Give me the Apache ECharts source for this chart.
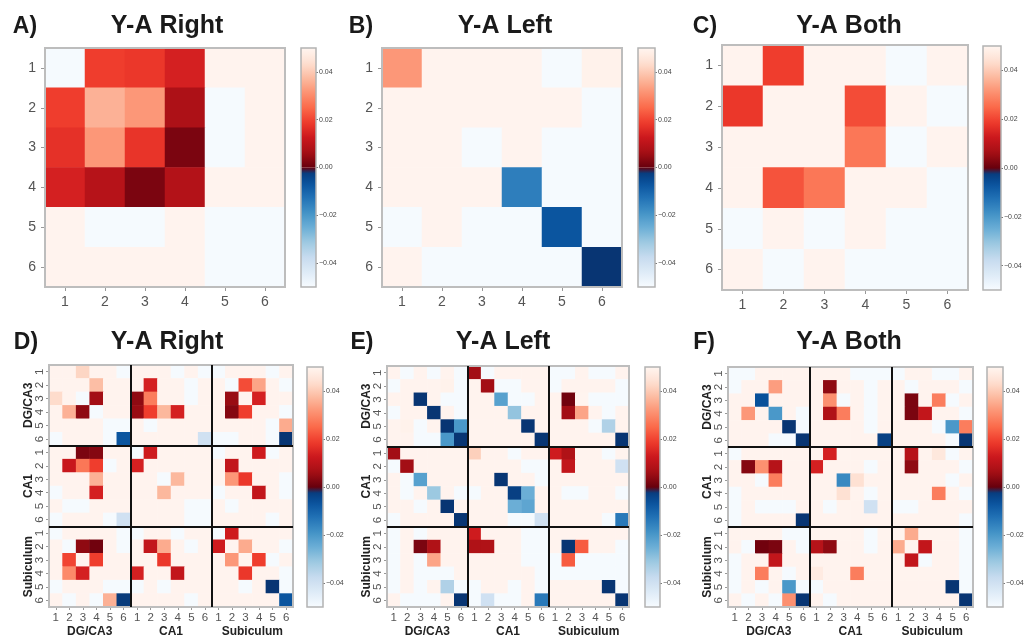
<!DOCTYPE html>
<html><head><meta charset="utf-8">
<script src="https://cdn.jsdelivr.net/npm/echarts@6/dist/echarts.min.js"></script>
<style>html,body{margin:0;padding:0;background:#fff}#c{width:1035px;height:643px}</style>
</head><body><div id="c"></div>
<script>
const TICKS = ['1','2','3','4','5','6'];
const REGIONS = ['DG/CA3','CA1','Subiculum'];
const TITLES = ['Y-A Right','Y-A Left','Y-A Both','Y-A Right','Y-A Left','Y-A Both'];
const LETTERS = ['A)','B)','C)','D)','E)','F)'];
const CBAR_TICKS = [-0.04,-0.02,0,0.02,0.04];

const A_RIGHT = [
 [-.0495,.019,.018,.014,.0495,.0495],
 [.019,.036,.032,.0075,-.0495,.0495],
 [.017,.032,.0175,.002,-.0495,.0495],
 [.014,.009,.002,.0085,.0495,.0495],
 [.0495,-.0495,-.0495,.0495,-.0495,-.0495],
 [.0495,.0495,.0495,.0495,-.0495,-.0495]
];
const B_LEFT = [
 [.032,.0495,.0495,.0495,-.0495,.049],
 [.0495,.0495,.0495,.0495,.0495,-.0495],
 [.0495,.0495,-.0495,.0495,-.0495,-.0495],
 [.0495,.0495,.0495,-.015,-.0495,-.0495],
 [-.0495,.0495,-.0495,-.0495,-.007,-.0495],
 [.0495,-.0495,-.0495,-.0495,-.0495,-.001]
];
const C_BOTH = [
 [.0495,.019,.0495,.0495,-.0495,.0495],
 [.018,.0495,.0495,.021,.0495,-.0495],
 [.0495,.0495,.0495,.027,-.0495,.0495],
 [.0495,.022,.027,.0495,.0495,-.0495],
 [-.0495,.0495,-.0495,.0495,-.0495,-.0495],
 [.0495,-.0495,.0495,-.0495,-.0495,-.0495]
];
const D_RIGHT = [
 [.0495,.0495,.042,.0495,.0495,-.0495, .0495,.0495,.0495,-.0495,.0495,-.0495, -.0495,.0495,.0495,.0495,-.0495,.0495],
 [.0495,.0495,.0495,.038,.0495,.0495, .0495,.014,.0495,.0495,-.0495,.0495, .0495,-.0495,.021,.034,.0495,-.0495],
 [.043,.0495,-.0495,.006,.0495,.0495, .004,.028,.0495,.0495,-.0495,.0495, .0495,.005,.0498,.014,.0495,.0495],
 [.0495,.036,.004,-.0495,.0495,.0495, .005,.019,.037,.014,.0495,.0495, .0495,.003,.019,.0495,.0495,-.0495],
 [.0495,.0495,.0495,.0495,-.0495,-.0495, .0495,-.0495,.0495,.0495,.0495,.0495, .0495,.0495,.0495,.0495,-.0495,.035],
 [-.0495,.0495,.0495,.0495,-.0495,-.007, .0495,.0495,.0495,.0495,.0495,-.040, -.0495,-.0495,.0495,.0495,-.0495,-.001],
 [.0495,.0495,.002,.003,.0495,.0495, -.0495,.013,.0495,.0495,.0495,.0495, -.0495,.0495,.0495,.013,-.0495,.0495],
 [.0495,.012,.027,.019,-.0495,.0495, .014,.0495,.0495,.0495,.0495,.0495, .0495,.011,.0495,.0495,.0495,.0495],
 [.0495,.0495,.0495,.036,.0495,.0495, .0495,.0495,-.0495,.037,.0495,.0495, .0495,.032,.018,.0495,.0495,-.0495],
 [-.0495,.0495,.0495,.014,.0495,.0495, .0495,.0495,.037,.0495,.0495,.0495, -.0495,.0495,.0495,.011,.0495,-.0495],
 [.0495,-.0495,-.0495,.0495,.0495,.0495, .0495,.0495,.0495,.0495,-.0495,-.0495, .0495,-.0495,.0495,.0495,.0495,.0495],
 [-.0495,.0495,.0495,.0495,-.0495,-.040, .0495,.0495,.0495,.0495,-.0495,-.0495, .0495,.0495,.0495,.0495,-.0495,.0495],
 [-.0495,.0495,.0495,.0495,.0495,-.0495, -.0495,.0495,.0495,-.0495,.0495,.0495, -.0495,.013,.0495,.0495,.0495,.0495],
 [.0495,-.0495,.004,.001,.0495,-.0495, .0495,.011,.035,.0495,-.0495,.0495, .013,.0498,.035,.0495,.0495,-.0495],
 [.0495,.020,.0498,.019,.0495,.0495, .0495,.0495,.018,.0495,.0495,.0495, .0495,.032,.0498,.019,-.0495,.0495],
 [.0495,.030,.014,.0495,.0495,.0495, .014,.0495,.0495,.011,.0495,.0495, .0495,.0495,.018,.0495,.0495,-.0495],
 [-.0495,.0495,.0495,.0495,-.0495,-.0495, -.0495,.0495,-.0495,.0495,.0495,.0495, .0495,.0495,-.0495,.0495,-.001,-.0495],
 [.0495,-.0495,.0495,-.0495,.036,-.002, .0495,.0495,.0495,.0495,-.0495,.0495, .0495,.0495,.0495,.0495,.0495,-.007]
];
const E_LEFT = [
 [.0495,-.0495,.0495,-.0495,.0495,-.0495, .006,-.0495,.0495,.0495,.0495,.0495, -.0495,-.0495,.0495,-.0495,-.0495,.0495],
 [-.0495,.0495,.0495,.0495,.049,-.0495, .0495,.006,-.0495,-.0495,.0495,.0495, -.0495,.0495,.0495,.0495,.0495,-.0495],
 [.0495,.0495,-.001,.0495,-.0495,-.0495, .0495,.0495,-.022,-.0495,-.0495,.0495, .0495,.001,.0498,-.0495,-.0495,-.0495],
 [-.0495,.0495,.0495,-.001,.0495,-.0495, .0495,.0495,.0495,-.030,.0495,.0495, .0495,.006,.034,.0495,-.0495,.0495],
 [.0495,.049,-.0495,.0495,-.001,-.020, .0495,.0495,.0495,.0495,-.001,.0495, .0495,.0495,.0495,-.0495,-.034,.0495],
 [.0495,.0495,-.0495,-.0495,-.020,-.001, .0495,.0495,.0495,.0495,.0495,-.001, .0495,.0495,.0495,.0495,.0495,-.001],
 [.006,.0495,.0495,.0495,.0495,.0495, .041,.0495,.0495,-.0495,.0495,.0495, .013,.008,.0495,.0495,-.0495,.0495],
 [-.0495,.006,.0495,.0495,.0495,.0495, .0495,.0495,.0495,.0495,-.0495,-.0495, .0495,.011,.0495,.0495,.0495,-.040],
 [.0495,-.0495,-.022,.0495,.0495,.0495, .0495,.0495,-.001,.0495,.0495,-.0495, .0495,.0495,.0495,.0495,.0495,.0495],
 [.0495,-.0495,.0495,-.031,.0495,-.0495, -.0495,.0495,.0495,-.003,-.025,.0495, .0495,-.0495,-.0495,.0495,.0495,-.0495],
 [.0495,.0495,-.0495,.0495,-.001,.0495, .0495,.0495,.0495,-.025,-.023,.0495, .0495,.0495,.0495,.0495,.0495,.0495],
 [-.0495,.0495,.0495,.0495,.0495,-.001, .0495,.0495,.0495,-.0495,-.0495,-.040, .0495,.0495,.0495,.0495,-.0495,-.014],
 [-.0495,.0495,-.0495,.0495,.0495,.0495, .013,.0495,.0495,.0495,-.0495,-.0495, .0495,.0495,.0495,.0495,.0495,.0495],
 [-.0495,.0495,.002,.008,.0495,.0495, .008,.008,.0495,.0495,-.0495,-.0495, .0495,-.001,.023,.0495,.0495,-.0495],
 [-.0495,.0495,-.0495,.034,.0495,.0495, .0495,.0495,.0495,.0495,-.0495,-.0495, -.0495,.023,-.0495,-.0495,-.0495,-.0495],
 [-.0495,.0495,-.0495,-.0495,-.0495,.0495, .0495,.0495,.0495,.0495,.0495,-.0495, -.0495,-.0495,-.0495,-.0495,-.0495,-.0495],
 [-.0495,.0495,-.0495,.0495,-.034,-.0495, -.0495,.0495,.0495,-.0495,.0495,-.0495, .0495,.0495,.0495,.0495,-.001,-.0495],
 [.0495,-.0495,-.0495,-.0495,.0495,-.001, -.0495,-.040,-.0495,-.0495,.0495,-.014, .0495,.0495,.0495,.0495,.0495,-.001]
];
const F_BOTH = [
 [-.0495,-.0495,.0495,.0495,.0495,.0495, .0495,.0495,.0495,-.0495,-.0495,-.0495, -.0495,.0495,.0495,-.0495,-.0495,.0495],
 [-.0495,.0495,.0495,.033,.0495,.0495, .0495,.004,.0495,.0495,-.0495,.0495, .0495,-.0495,.0495,.0495,.0495,-.0495],
 [.0495,.0495,-.006,.0495,.0495,.0495, .0495,.031,-.0495,.0495,-.0495,.0495, .0495,.002,.0495,.028,-.0495,.0495],
 [.0495,.032,.0495,-.020,.0495,-.0495, .0495,.008,.028,.0495,-.0495,.0495, .0495,.002,.011,.0495,.0495,-.0495],
 [.0495,.0495,.0495,.0495,-.001,-.0495, .0495,.0495,.0495,.0495,-.0495,.0495, .0495,.0495,.0495,-.0495,-.020,.028],
 [.0495,.0495,.0495,-.0495,-.0495,-.001, .0495,.0495,.0495,.0495,.0495,-.003, .0495,.0495,.0495,.0495,-.0495,-.001],
 [-.0495,.0495,.0495,.0495,.0495,.0495, .0495,.014,.0495,.0495,.0495,.0495, .0495,.009,.0495,.046,-.0495,.0495],
 [.0495,.003,.031,.009,.0495,.0495, .014,.0495,.0495,.0495,-.0495,.0495, .0495,.004,.0495,.0495,.0495,-.0495],
 [.0495,.0495,-.0495,.028,.0495,.0495, .0495,.0495,-.017,.044,.0495,.0495, .0495,.0495,.0495,.0495,-.0495,.0495],
 [-.0495,.0495,.0495,.0495,.0495,.0495, .0495,.0495,.044,.0495,-.0495,.0495, .0495,.0495,.0495,.028,.0495,-.0495],
 [-.0495,.0495,-.0495,-.0495,-.0495,.0495, .0495,-.0495,.0495,.0495,-.040,.0495, -.0495,-.0495,.0495,.0495,.0495,.0495],
 [-.0495,.0495,.0495,.0495,.0495,-.001, .0495,.0495,.0495,.0495,.0495,.0495, .0495,.0495,.0495,.0495,.0495,-.0495],
 [.0495,.0495,.0495,.0495,-.0495,-.0495, .0495,.0495,.0495,.0495,-.0495,.0495, .0495,.035,.0495,.0495,.0495,-.0495],
 [.0495,-.0495,.001,.002,.0495,-.0495, .009,.004,.0495,.0495,-.0495,.0495, .035,.0498,.011,.0495,.0495,-.0495],
 [-.0495,.0495,.0495,.011,.0495,.0495, .0495,.0495,.0495,.0495,.0495,.0495, .0495,.011,-.0495,.0495,.0495,-.0495],
 [-.0495,.0495,.028,.0495,-.0495,.0495, .047,.0495,.0495,.028,.0495,.0495, .0495,.0495,.0495,.0495,.0495,-.0495],
 [-.0495,.0495,-.0495,.0495,-.020,-.0495, -.0495,.0495,.0495,.0495,.0495,.0495, .0495,.0495,.0495,.0495,-.001,-.0495],
 [.0495,-.0495,.0495,-.0495,.031,-.001, .0495,-.0495,.0495,.0495,.0495,.0495, .0495,.0495,.0495,.0495,.0495,-.001]
];

const MATRICES = [A_RIGHT, B_LEFT, C_BOTH, D_RIGHT, E_LEFT, F_BOTH];

// layout (positions only)
const LAYOUT = [
 {g:[45,48,240,239], cb:[301,48,15,239], t:[167,26], l:[25,27], big:false},
 {g:[382,48,240,239], cb:[638,48,17,239], t:[505,26], l:[361,27], big:false},
 {g:[722,45,246,245], cb:[983,46,18,244], t:[849,26], l:[705,27], big:false},
 {g:[49,365,244,242], cb:[307,367,16,240], t:[167,342], l:[26,343], big:true},
 {g:[387,366,242,241], cb:[645,367,15,240], t:[503,342], l:[362,343], big:true},
 {g:[728,367,245,240], cb:[987,367,16,240], t:[849,342], l:[704,343], big:true}
];

const FONT = '"Liberation Sans", Arial, Helvetica, sans-serif';
const BLUES_LD = ['#f7fbff','#deebf7','#c6dbef','#9ecae1','#6baed6','#4292c6','#2171b5','#08519c','#08306b'];
const REDS_DL = ['#67000d','#a50f15','#cb181d','#ef3b2c','#fb6a4a','#fc9272','#fcbba1','#fee0d2','#fff5f0'];
function hex2rgb(h){return [parseInt(h.slice(1,3),16),parseInt(h.slice(3,5),16),parseInt(h.slice(5,7),16)];}
function lerpPal(pal,t){
  t=Math.max(0,Math.min(1,t));
  const f=t*(pal.length-1); const i=Math.min(Math.floor(f),pal.length-2); const u=f-i;
  const a=hex2rgb(pal[i]), b=hex2rgb(pal[i+1]);
  return 'rgb('+a.map((v,k)=>Math.round(v+(b[k]-v)*u)).join(',')+')';
}
function cmap(v){ return v<0 ? lerpPal(BLUES_LD,(v+0.05)/0.05) : lerpPal(REDS_DL, v/0.05); }
const N=400, COLORS=[];
for(let i=0;i<=N;i++){ COLORS.push(cmap(-0.05+0.1*i/N)); }

const grids=[], xAxes=[], yAxes=[], series=[], graphics=[];
LAYOUT.forEach(L=>grids.push({left:L.g[0],top:L.g[1],width:L.g[2],height:L.g[3],show:true,borderColor:'#bdbdbd',borderWidth:2,z:3}));
LAYOUT.forEach(L=>grids.push({left:L.cb[0],top:L.cb[1],width:L.cb[2],height:L.cb[3],show:true,borderColor:'#b3b3b3',borderWidth:1.5,z:3}));

LAYOUT.forEach((L,i)=>{
  const labels = L.big ? TICKS.concat(TICKS,TICKS) : TICKS;
  const fs = L.big ? 11.5 : 14;
  const xi = xAxes.length;
  xAxes.push({type:'category',gridIndex:i,data:labels,position:'bottom',axisLine:{show:false},
    axisTick:{show:true,alignWithLabel:true,length:L.big?3:4,lineStyle:{color:'#999'}},
    axisLabel:{interval:0,fontSize:fs,color:'#555',margin:L.big?5:8,fontFamily:FONT},splitLine:{show:false}});
  const yi = yAxes.length;
  yAxes.push({type:'category',gridIndex:i,data:labels,inverse:true,position:'left',axisLine:{show:false},
    axisTick:{show:true,alignWithLabel:true,length:L.big?3:4,lineStyle:{color:'#999'}},
    axisLabel:{interval:0,fontSize:fs,color:'#555',margin:L.big?3:9,rotate:L.big?90:0,fontFamily:FONT},splitLine:{show:false}});
  if(L.big){
    xAxes.push({type:'value',gridIndex:i,min:0,max:18,interval:6,position:'top',z:6,axisLine:{show:false},axisTick:{show:false},axisLabel:{show:false},
      splitLine:{show:true,showMinLine:false,showMaxLine:false,lineStyle:{color:'#111',width:2}}});
    yAxes.push({type:'value',gridIndex:i,min:0,max:18,interval:6,position:'right',z:6,axisLine:{show:false},axisTick:{show:false},axisLabel:{show:false},
      splitLine:{show:true,showMinLine:false,showMaxLine:false,lineStyle:{color:'#111',width:2}}});
    xAxes.push({type:'category',gridIndex:i,data:REGIONS,position:'bottom',offset:17,axisLine:{show:false},axisTick:{show:false},
      axisLabel:{fontSize:12,fontWeight:'bold',color:'#222',margin:2,fontFamily:FONT},splitLine:{show:false}});
    yAxes.push({type:'category',gridIndex:i,data:REGIONS,inverse:true,position:'left',offset:12,axisLine:{show:false},axisTick:{show:false},
      axisLabel:{fontSize:12,fontWeight:'bold',color:'#222',margin:2,rotate:90,fontFamily:FONT},splitLine:{show:false}});
  }
  const M = MATRICES[i], data=[];
  M.forEach((row,r)=>row.forEach((v,c)=>data.push([c,r,v])));
  series.push({type:'heatmap',xAxisIndex:xi,yAxisIndex:yi,data:data,emphasis:{disabled:true},progressive:0,animation:false});
  graphics.push({type:'text',x:L.t[0],y:L.t[1],style:{text:TITLES[i],font:'bold 25px '+FONT,fill:'#1a1a1a',textAlign:'center',textVerticalAlign:'middle',align:'center',verticalAlign:'middle'}});
  graphics.push({type:'text',x:L.l[0],y:L.l[1],style:{text:LETTERS[i],font:'bold 23px '+FONT,fill:'#1a1a1a',textAlign:'center',textVerticalAlign:'middle',align:'center',verticalAlign:'middle'}});
});

function grad(pos){
  const stops=[];
  for(let k=0;k<=20;k++){ const v = pos ? 0.05*(1-k/20) : -0.05*k/20; stops.push({offset:k/20,color:cmap(v)}); }
  return {type:'linear',x:0,y:0,x2:0,y2:1,colorStops:stops};
}
LAYOUT.forEach((L,i)=>{
  const xi=xAxes.length;
  xAxes.push({type:'category',gridIndex:6+i,data:['c'],show:false});
  const yi=yAxes.length;
  yAxes.push({type:'value',gridIndex:6+i,min:-0.05,max:0.05,position:'right',axisLine:{show:false},
    axisTick:{show:true,customValues:CBAR_TICKS,length:2,lineStyle:{color:'#777'}},
    axisLabel:{customValues:CBAR_TICKS,fontSize:7,color:'#444',margin:3,fontFamily:FONT,
      formatter:v=>(v<-1e-9?'\u2212':'')+Math.abs(v).toFixed(2)},splitLine:{show:false}});
  series.push({type:'bar',xAxisIndex:xi,yAxisIndex:yi,data:[0.05],barWidth:'100%',barGap:'-100%',itemStyle:{color:grad(true)},silent:true,animation:false});
  series.push({type:'bar',xAxisIndex:xi,yAxisIndex:yi,data:[-0.05],barWidth:'100%',barGap:'-100%',itemStyle:{color:grad(false)},silent:true,animation:false});
});

const chart = echarts.init(document.getElementById('c'),null,{renderer:'canvas'});
chart.setOption({
  backgroundColor:'#ffffff',
  animation:false,
  textStyle:{fontFamily:FONT},
  grid:grids, xAxis:xAxes, yAxis:yAxes,
  visualMap:{type:'continuous',show:false,min:-0.05,max:0.05,seriesIndex:[0,1,2,3,4,5],dimension:2,inRange:{color:COLORS}},
  series:series,
  graphic:graphics
});
</script></body></html>
